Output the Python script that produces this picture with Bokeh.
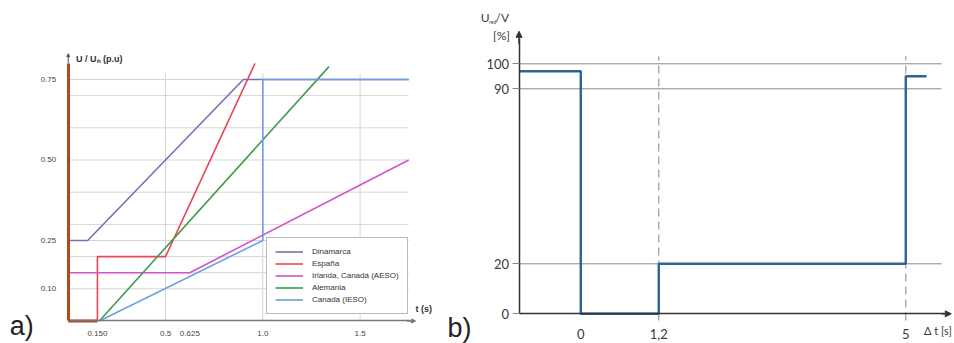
from bokeh.plotting import figure
from bokeh.layouts import row
from bokeh.models import FixedTicker, Label, Arrow, NormalHead, Legend
from bokeh.embed import file_html
from bokeh.resources import INLINE

# ---------- data: chart a) ----------
dinamarca_t = [0, 0.1, 0.9, 1.75]
dinamarca_u = [0.25, 0.25, 0.75, 0.75]
espana_t = [0, 0.15, 0.15, 0.5, 0.96]
espana_u = [0, 0, 0.2, 0.2, 0.8]
irlanda_t = [0, 0.625, 1.75]
irlanda_u = [0.15, 0.15, 0.5]
alemania_t = [0.16, 1.34]
alemania_u = [0, 0.79]
canada_t = [0.16, 1.0, 1.0, 1.75]
canada_u = [0, 0.25, 0.75, 0.75]
a_xticks = [0.15, 0.5, 0.625, 1.0, 1.5]
a_xlabels = ["0.150", "0.5", "0.625", "1.0", "1.5"]
a_yticks = [0.10, 0.25, 0.50, 0.75]
a_ylabels = ["0.10", "0.25", "0.50", "0.75"]
a_ygrid = [0.10, 0.15, 0.20, 0.25, 0.30, 0.40, 0.50, 0.60, 0.70, 0.75]
a_xgrid = [0.5, 1.0, 1.5]

# ---------- data: chart b) ----------
b_t = [-0.95, 0, 0, 1.2, 1.2, 5, 5, 5.32]
b_u = [97, 97, 0, 0, 20, 20, 95, 95]
b_xticks = [0, 1.2, 5]
b_xlabels = ["0", "1,2", "5"]
b_yticks = [0, 20, 90, 100]
b_ylabels = ["0", "20", "90", "100"]
b_ygrid = [20, 90, 100]
b_dashed = [1.2, 5]

SANS = "Liberation Sans"
GEO = "Lato"

# ================= chart a) =================
A_W, A_H = 440, 343
pa = figure(output_backend="svg", toolbar_location=None,
            x_range=(-0.348, -0.348 + A_W / 194.6),
            y_range=(-0.0699, -0.0699 + A_H / 322.0),
            frame_width=A_W, frame_height=A_H,
            min_border=0)
pa.outline_line_color = None
pa.grid.visible = False

# grid lines
a_xmax = max(irlanda_t)
pa.segment(x0=[0] * len(a_ygrid), x1=[a_xmax] * len(a_ygrid), y0=a_ygrid, y1=a_ygrid,
           line_color="#d6d6d6", line_width=1)
pa.segment(x0=a_xgrid, x1=a_xgrid, y0=[0] * len(a_xgrid), y1=[0.77] * len(a_xgrid),
           line_color="#d6d6d6", line_width=1)

pa.xaxis.ticker = FixedTicker(ticks=a_xticks)
pa.xaxis.major_label_overrides = dict(zip(a_xticks, a_xlabels))
pa.yaxis.ticker = FixedTicker(ticks=a_yticks)
pa.yaxis.major_label_overrides = dict(zip(a_yticks, a_ylabels))
pa.xaxis.fixed_location = 0
pa.yaxis.fixed_location = 0
pa.xaxis.bounds = (0, 1.76)
pa.yaxis.bounds = (0, 0.8)
for ax in (pa.xaxis, pa.yaxis):
    ax.major_tick_line_color = None
    ax.minor_tick_line_color = None
    ax.major_label_text_font = SANS
    ax.major_label_text_font_size = "8px"
    ax.major_label_text_color = "#444444"
pa.xaxis.axis_line_color = "#777777"
pa.xaxis.axis_line_width = 1.5
pa.xaxis.major_label_standoff = 4
pa.yaxis.axis_line_color = "#b5471b"
pa.yaxis.axis_line_width = 3
pa.yaxis.major_label_standoff = 6

lw = 1.6
r1 = pa.line(dinamarca_t, dinamarca_u, color="#7272b2", line_width=lw)
r2 = pa.line(espana_t, espana_u, color="#e8475a", line_width=lw)
r3 = pa.line(irlanda_t, irlanda_u, color="#d552c8", line_width=lw)
r4 = pa.line(alemania_t, alemania_u, color="#3f9a4a", line_width=lw)
r5 = pa.line(canada_t, canada_u, color="#6f9fe3", line_width=lw)
pa.line(espana_t[:2], espana_u[:2], color="#b5471b", line_width=3)

legend = Legend(items=[("Dinamarca", [r1]), ("España", [r2]),
                       ("Irlanda, Canadá (AESO)", [r3]), ("Alemania", [r4]),
                       ("Canada (IESO)", [r5])],
                location=(266, 29))
legend.label_text_font = SANS
legend.label_text_font_size = "8px"
legend.label_text_color = "#333333"
legend.border_line_color = "#777777"
legend.border_line_width = 1
legend.padding = 8
legend.spacing = 1
legend.label_height = 11
legend.glyph_height = 11
legend.glyph_width = 28
legend.label_standoff = 9
legend.margin = 0
legend.background_fill_alpha = 1
pa.add_layout(legend)

pa.add_layout(Arrow(end=NormalHead(size=4, fill_color="#777777", line_color="#777777"),
                    line_color="#777777", line_width=1.5,
                    x_start=1.74, y_start=0, x_end=1.785, y_end=0))
pa.add_layout(Arrow(end=NormalHead(size=3, fill_color="#555555", line_color="#555555"),
                    line_color="#555555", line_width=1,
                    x_start=0, y_start=0.8, x_end=0, y_end=0.83))
pa.add_layout(Label(x=0.04, y=0.815, text="U / Uₙ (p.u)", text_font=SANS,
                    text_font_size="9px", text_font_style="bold", text_color="#333333",
                    text_baseline="middle"))
pa.add_layout(Label(x=1.785, y=0.036, text="t (s)", text_font=SANS,
                    text_font_size="9px", text_font_style="bold", text_color="#333333",
                    text_baseline="middle"))
pa.add_layout(Label(x=-0.30, y=-0.016, text="a)", text_font=SANS,
                    text_font_size="27px", text_color="#222222",
                    text_baseline="middle"))

# ================= chart b) =================
B_W, B_H = 514, 343
pb = figure(output_backend="svg", toolbar_location=None,
            x_range=(-2.158, -2.158 + B_W / 65.0),
            y_range=(-11.88, -11.88 + B_H / 2.5),
            frame_width=B_W, frame_height=B_H,
            min_border=0)
pb.outline_line_color = None
pb.grid.visible = False

b_xmin, b_xmax = min(b_t), 5.55
pb.segment(x0=[b_xmin] * len(b_ygrid), x1=[b_xmax] * len(b_ygrid), y0=b_ygrid, y1=b_ygrid,
           line_color="#8a8a8a", line_width=1)
pb.segment(x0=b_dashed, x1=b_dashed, y0=[-2.7] * len(b_dashed), y1=[103] * len(b_dashed),
           line_color="#9a9a9a", line_width=1.2, line_dash="8 5")

pb.xaxis.ticker = FixedTicker(ticks=b_xticks)
pb.xaxis.major_label_overrides = dict(zip(b_xticks, b_xlabels))
pb.yaxis.ticker = FixedTicker(ticks=b_yticks)
pb.yaxis.major_label_overrides = dict(zip(b_yticks, b_ylabels))
pb.xaxis.fixed_location = 0
pb.yaxis.fixed_location = b_xmin
pb.xaxis.bounds = (b_xmin, 5.6)
pb.yaxis.bounds = (0, 110)
for ax in (pb.xaxis, pb.yaxis):
    ax.minor_tick_line_color = None
    ax.major_label_text_font = GEO
    ax.major_label_text_font_size = "13px"
    ax.major_label_text_color = "#3a3a3a"
    ax.axis_line_color = "#333333"
    ax.axis_line_width = 1.5
pb.xaxis.major_tick_line_color = None
pb.xaxis.major_label_standoff = 9
pb.yaxis.major_tick_line_color = "#8a8a8a"
pb.yaxis.major_tick_in = 0
pb.yaxis.major_tick_out = 7
pb.yaxis.major_label_standoff = 3

pb.line(b_t, b_u, color="#2c6496", line_width=2.4)

pb.add_layout(Arrow(end=NormalHead(size=6, fill_color="#333333", line_color="#333333"),
                    line_color="#333333", line_width=1.5,
                    x_start=b_xmin, y_start=108, x_end=b_xmin, y_end=113))
pb.add_layout(Arrow(end=NormalHead(size=6, fill_color="#333333", line_color="#333333"),
                    line_color="#333333", line_width=1.5,
                    x_start=5.55, y_start=0, x_end=5.7, y_end=0))
pb.add_layout(Label(x=-1.54, y=118.5, text="U", text_font=GEO, text_font_size="12px",
                    text_color="#3a3a3a", text_baseline="middle"))
pb.add_layout(Label(x=-1.41, y=116.6, text="red", text_font=GEO, text_font_size="5px",
                    text_color="#3a3a3a", text_baseline="middle"))
pb.add_layout(Label(x=-1.31, y=118.5, text="/V", text_font=GEO, text_font_size="12px",
                    text_color="#3a3a3a", text_baseline="middle"))
pb.add_layout(Label(x=-1.35, y=111.3, text="[%]", text_font=GEO, text_font_size="12px",
                    text_color="#3a3a3a", text_baseline="middle"))
pb.add_layout(Label(x=5.28, y=-6.7, text="Δ t [s]", text_font=GEO, text_font_size="11px",
                    text_color="#3a3a3a", text_baseline="middle"))
pb.add_layout(Label(x=-2.05, y=-5.6, text="b)", text_font=SANS,
                    text_font_size="27px", text_color="#222222",
                    text_baseline="middle"))

layout = row(pa, pb, spacing=0)
open("out.html", "w").write(file_html(layout, INLINE))
